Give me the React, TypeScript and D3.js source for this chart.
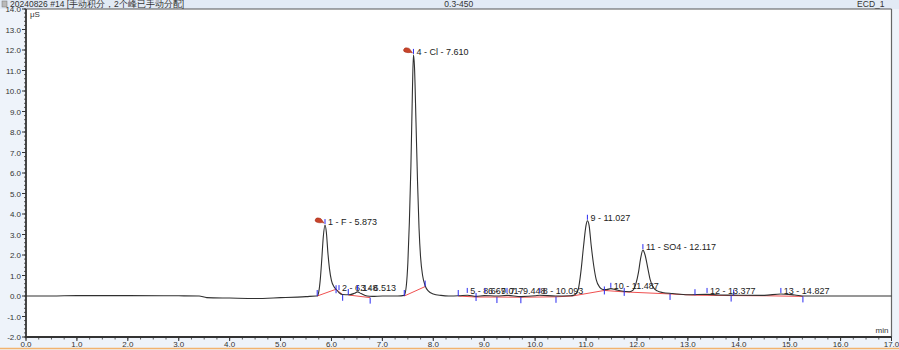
import React from "react";
import * as d3 from "d3";

// ---- data ----
const headerTitle = "20240826 #14 [手动积分，2个峰已手动分配]";
const headerCenter = "0.3-450";
const headerRight = "ECD_1";
const yUnit = "μS";
const xUnit = "min";

const xTicks = [0, 1, 2, 3, 4, 5, 6, 7, 8, 9, 10, 11, 12, 13, 14, 15, 16, 17];
const yTicks = [-2, -1, 0, 1, 2, 3, 4, 5, 6, 7, 8, 9, 10, 11, 12, 13, 14];

// chromatogram trace (time min, signal μS)
const traceTime = [
  0, 0.5, 1.0, 2.0, 3.0, 3.4, 3.55, 4.0, 4.5, 5.0, 5.5, 5.7,
  5.72, 5.75, 5.78, 5.81, 5.84, 5.873, 5.9, 5.93, 5.96, 6.0, 6.05, 6.09, 6.15, 6.22, 6.35, 6.45, 6.513, 6.58, 6.7, 6.8, 7.0, 7.3,
  7.43, 7.47, 7.5, 7.53, 7.56, 7.59, 7.61, 7.63, 7.66, 7.69, 7.72, 7.75, 7.79, 7.84, 7.9, 8.0, 8.15, 8.3,
  8.5, 8.67, 8.84, 9.0, 9.25, 9.45, 9.72, 10.0, 10.09, 10.4, 10.7,
  10.75, 10.8, 10.85, 10.9, 10.95, 11.0, 11.027, 11.06, 11.1, 11.15, 11.2, 11.27, 11.33, 11.4, 11.487, 11.58, 11.7, 11.78,
  11.85, 11.93, 11.98, 12.03, 12.07, 12.117, 12.16, 12.21, 12.26, 12.32, 12.4, 12.5, 12.7, 13.0, 13.377, 13.6, 14.0, 14.5, 14.827, 15.1, 15.3, 16.0, 17.0,
];
const traceValue = [
  0, 0.0, 0.02, 0.02, 0.01, 0.0, -0.08, -0.1, -0.12, -0.08, -0.03, 0.0,
  0.0, 0.2, 0.8, 1.8, 2.9, 3.46, 3.1, 2.1, 1.35, 0.75, 0.45, 0.33, 0.16, 0.07, 0.06, 0.13, 0.2, 0.12, 0.0, -0.02, 0.0, 0.0,
  0.03, 0.5, 1.6, 3.6, 6.3, 10.0, 11.76, 11.2, 8.5, 5.6, 3.3, 1.9, 1.0, 0.5, 0.25, 0.1, 0.03, 0.0,
  0.01, 0.04, -0.02, 0.02, 0.0, 0.03, -0.03, 0.01, 0.04, 0.0, 0.01,
  0.03, 0.1, 0.35, 1.2, 2.4, 3.45, 3.67, 3.45, 2.5, 1.5, 0.8, 0.42, 0.32, 0.31, 0.36, 0.31, 0.24, 0.22,
  0.21, 0.3, 0.6, 1.15, 1.8, 2.24, 2.0, 1.4, 0.8, 0.42, 0.25, 0.17, 0.12, 0.06, 0.08, 0.05, 0.04, 0.03, 0.1, 0.05, 0.0, 0.0, 0.0,
];

// labelled peaks
const peakTimes = [5.873, 6.148, 6.513, 7.61, 8.667, 9.017, 9.448, 10.093, 11.027, 11.487, 12.117, 13.377, 14.827];
const peakHeights = [3.46, 0.24, 0.24, 11.76, 0.1, 0.1, 0.1, 0.1, 3.67, 0.35, 2.24, 0.1, 0.1];
const peakLabels = [
  "1 - F - 5.873", "2 - 6.148", "3 - 6.513", "4 - Cl - 7.610", "5 - 8.667", "6 - 9.017", "7 - 9.448",
  "8 - 10.093", "9 - 11.027", "10 - 11.487", "11 - SO4 - 12.117", "12 - 13.377", "13 - 14.827",
];
const markedPeaks = [0, 3];

// integration boundary ticks
const boundTimes = [5.72, 6.09, 6.22, 6.33, 6.76, 7.43, 7.84, 8.49, 8.84, 9.25, 9.72, 10.41, 11.36, 11.75, 12.65, 13.14, 13.85, 13.9, 15.26];
const boundValues = [0.0, 0.33, 0.06, 0.05, -0.08, 0.0, 0.46, 0.0, -0.05, -0.05, -0.06, -0.04, 0.27, 0.2, 0.1, 0.04, 0.02, 0.02, -0.02];
const boundSides = [1, 0, -1, 1, -1, 1, 1, 1, 0, -1, -1, -1, 0, 0, -1, 1, -1, 1, -1];

// integration baselines
const baseSegments: [number, number][][] = [
  [[5.72, 0.0], [6.09, 0.33]],
  [[6.09, 0.33], [6.22, 0.06]],
  [[6.33, 0.05], [6.76, -0.08]],
  [[7.43, 0.0], [7.84, 0.46]],
  [[8.49, 0.0], [8.84, -0.05], [9.25, -0.05], [9.72, -0.06], [10.41, -0.04], [10.73, 0.0]],
  [[10.73, 0.0], [11.36, 0.27], [11.75, 0.2], [12.65, 0.1], [13.14, 0.04]],
  [[13.14, 0.04], [13.85, 0.02], [14.55, 0.01], [15.26, -0.02]],
];

const W = 899;
const H = 350;
const FONT = "'Liberation Sans', Arial, sans-serif";

export default function App() {
  const x = d3.scaleLinear().domain([0, 17]).range([26, 891.5]);
  const y = d3.scaleLinear().domain([-2, 14]).range([337, 9]);

  const pts: [number, number][] = traceTime.map((t, i) => [t, traceValue[i]]);
  const line = d3
    .line<[number, number]>()
    .x((d) => x(d[0]))
    .y((d) => y(d[1]))
    .curve(d3.curveMonotoneX);
  const segLine = d3
    .line<[number, number]>()
    .x((d) => x(d[0]))
    .y((d) => y(d[1]));

  const yMinor = d3.range(-2, 14.0001, 0.2);
  const xMinor = d3.range(0, 17.0001, 0.25);

  const left = x(0);
  const right = x(17);
  const top = y(14);
  const bottom = y(-2);

  return (
    <svg
      width={W}
      height={H}
      style={{ position: "absolute", left: 0, top: 0, fontFamily: FONT }}
    >
      <rect x={0} y={0} width={W} height={H} fill="#eef3fa" />
      <rect x={0} y={0} width={W} height={top} fill="#e2eaf5" />
      <rect x={left} y={top} width={right - left} height={bottom - top} fill="#ffffff" />
      <line x1={0} x2={W} y1={348.5} y2={348.5} stroke="#f2b36f" strokeWidth={1.5} />

      {/* header */}
      <rect x={2} y={1} width={5} height={6} fill="#b9b9b9" stroke="#777" strokeWidth={0.5} />
      <text x={10} y={7} fontSize={8.5} fill="#333">{headerTitle}</text>
      <text x={(left + right) / 2} y={7} fontSize={8.5} fill="#333" textAnchor="middle">{headerCenter}</text>
      <text x={right - 7} y={7} fontSize={8.5} fill="#333" textAnchor="end">{headerRight}</text>

      {/* frame */}
      <line x1={left} x2={right} y1={top} y2={top} stroke="#555" strokeWidth={1} />
      <line x1={right} x2={right} y1={top} y2={bottom} stroke="#666" strokeWidth={1.2} />

      {/* y axis */}
      {yMinor.map((v, i) => (
        <line key={"ym" + i} x1={left - 2} x2={left} y1={y(v)} y2={y(v)} stroke="#333" strokeWidth={0.8} />
      ))}
      {yTicks.map((v) => (
        <g key={"yt" + v}>
          <line x1={left - 4} x2={left} y1={y(v)} y2={y(v)} stroke="#333" strokeWidth={1} />
          <text x={left - 5} y={y(v) + 3} fontSize={8} fill="#333" textAnchor="end">
            {v.toFixed(1)}
          </text>
        </g>
      ))}
      <line x1={left} x2={left} y1={top} y2={bottom + 1} stroke="#333" strokeWidth={1.8} />

      {/* x axis */}
      {xMinor.map((v, i) => (
        <line key={"xm" + i} x1={x(v)} x2={x(v)} y1={bottom} y2={bottom + 2.5} stroke="#333" strokeWidth={0.8} />
      ))}
      {xTicks.map((v) => (
        <g key={"xt" + v}>
          <line x1={x(v)} x2={x(v)} y1={bottom} y2={bottom + 4} stroke="#333" strokeWidth={1} />
          <text x={x(v)} y={347} fontSize={8} fill="#333" textAnchor="middle">
            {v.toFixed(1)}
          </text>
        </g>
      ))}
      <line x1={left - 1} x2={right} y1={bottom} y2={bottom} stroke="#333" strokeWidth={1.8} />

      <text x={left + 4} y={top + 8} fontSize={8} fill="#333">{yUnit}</text>
      <text x={right - 3} y={bottom - 4} fontSize={8} fill="#333" textAnchor="end">{xUnit}</text>

      {/* integration baselines */}
      {baseSegments.map((s, i) => (
        <path key={"bs" + i} d={segLine(s) || ""} fill="none" stroke="#f05050" strokeWidth={1} />
      ))}

      {/* trace */}
      <path d={line(pts) || ""} fill="none" stroke="#303030" strokeWidth={1.1} />

      {/* boundary ticks */}
      {boundTimes.map((t, i) => {
        const yy = y(boundValues[i]);
        const s = boundSides[i];
        const y1 = s === 1 ? yy - 6 : s === -1 ? yy : yy - 4;
        const y2 = s === 1 ? yy : s === -1 ? yy + 6 : yy + 4;
        return <line key={"bt" + i} x1={x(t)} x2={x(t)} y1={y1} y2={y2} stroke="#2a2af0" strokeWidth={1} />;
      })}

      {/* peak labels */}
      {peakTimes.map((t, i) => {
        const px = x(t);
        const py = y(peakHeights[i]);
        return (
          <g key={"pk" + i}>
            <line x1={px} x2={px} y1={py - 6} y2={py - 1} stroke="#2a2af0" strokeWidth={1} />
            <text x={px + 3} y={py} fontSize={9} fill="#222">
              {peakLabels[i]}
            </text>
          </g>
        );
      })}

      {/* red markers */}
      {markedPeaks.map((k) => {
        const px = x(peakTimes[k]);
        const py = y(peakHeights[k]);
        return (
          <g key={"mk" + k} transform={`translate(${px - 6},${py - 4})`}>
            <path d="M-4,-1 Q-3,-4 0,-3 Q2,-3 3,-1 L5,2 L3,1.5 Q1,2 -1,1.5 Q-4,1 -4,-1 Z" fill="#c8442a" stroke="#a02a18" strokeWidth={0.5} />
          </g>
        );
      })}
    </svg>
  );
}
